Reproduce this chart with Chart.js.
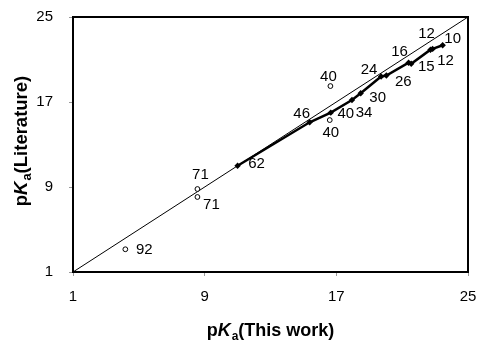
<!DOCTYPE html>
<html>
<head>
<meta charset="utf-8">
<script src="https://cdn.jsdelivr.net/npm/chart.js@4/dist/chart.umd.min.js"></script>
<style>
  html, body { margin: 0; padding: 0; background: #fff; }
  #wrap { width: 479px; height: 341px; }
</style>
</head>
<body>
<div id="wrap"><canvas id="pkaChart" width="479" height="341"></canvas></div>
<script>
// axis range / ticks
const axisTicks = [1, 9, 17, 25];
const diagonalX = [1, 25];

// filled diamonds, joined by a line (sorted by x)
const filledX = [11.0, 15.38, 16.66, 17.95, 18.48, 19.72, 20.04, 21.39, 21.55, 22.72, 22.85, 23.46];
const filledY = [11.0, 15.09, 16.0, 17.19, 17.82, 19.4, 19.49, 20.7, 20.6, 21.92, 22.0, 22.34];
const filledLabels = ['62', '46', '40', '34', '30', '24', '26', '16', '15', '12', '12', '10'];

// open circles
const openX = [16.64, 16.6, 8.56, 8.56, 4.18];
const openY = [18.5, 15.3, 8.81, 8.06, 3.14];
const openLabels = ['40', '40', '71', '71', '92'];

// label offsets in px (styling only)
const filledOffsets = [[19, -2], [-8, -8], [15, 1], [12, 13], [17, 5], [-12, -7], [17, 6], [-9, -11], [15, 3], [-4, -16], [13, 12], [10, -6]];
const openOffsets = [[-2, -9], [1, 13], [3, -14], [14, 8], [19, 1]];

const FONT = '"Liberation Sans", Arial, sans-serif';

function toPoints(xs, ys) {
    return xs.map((x, i) => ({ x: x, y: ys[i] }));
}

const pointLabels = {
    id: 'pointLabels',
    afterDatasetsDraw(chart) {
        const ctx = chart.ctx;
        ctx.save();
        ctx.font = '15px ' + FONT;
        ctx.fillStyle = '#000';
        ctx.textAlign = 'center';
        ctx.textBaseline = 'middle';
        chart.data.datasets.forEach((ds, di) => {
            if (!ds.pointText) return;
            const meta = chart.getDatasetMeta(di);
            meta.data.forEach((el, i) => {
                const off = ds.textOffsets[i];
                ctx.fillText(ds.pointText[i], el.x + off[0], el.y + off[1]);
            });
        });
        ctx.restore();
    }
};

// draws "pKa(...)" with italic K and subscript a, centred on 0,0
function drawPKa(ctx, rest, size) {
    const big = 'bold ' + size + 'px ' + FONT;
    const ital = 'italic bold ' + size + 'px ' + FONT;
    const sub = 'bold ' + Math.round(size * 0.68) + 'px ' + FONT;
    const parts = [[big, 'p', 0], [ital, 'K', 0], [sub, 'a', 4], [big, rest, 0]];
    let total = 0;
    parts.forEach(p => { ctx.font = p[0]; total += ctx.measureText(p[1]).width + (p[1] === 'K' ? 1 : 0); });
    let x = -total / 2;
    ctx.textBaseline = 'alphabetic';
    ctx.textAlign = 'left';
    parts.forEach(p => {
        ctx.font = p[0];
        ctx.fillText(p[1], x, p[2]);
        x += ctx.measureText(p[1]).width + (p[1] === 'K' ? 1 : 0);
    });
}

const frameAndTitles = {
    id: 'frameAndTitles',
    afterDraw(chart) {
        const ctx = chart.ctx;
        const a = chart.chartArea;
        ctx.save();
        ctx.strokeStyle = '#000';
        ctx.lineWidth = 2;
        ctx.strokeRect(a.left, a.top, a.right - a.left, a.bottom - a.top);
        ctx.fillStyle = '#000';

        ctx.save();
        ctx.translate((a.left + a.right) / 2, 336);
        drawPKa(ctx, '(This work)', 18);
        ctx.restore();

        ctx.save();
        ctx.translate(27, 141);
        ctx.rotate(-Math.PI / 2);
        drawPKa(ctx, '(Literature)', 18.5);
        ctx.restore();
        ctx.restore();
    }
};

const tickFont = { family: FONT, size: 15 };

new Chart(document.getElementById('pkaChart'), {
    type: 'scatter',
    data: {
        datasets: [
            {
                data: toPoints(filledX, filledY),
                showLine: true,
                borderColor: '#000',
                borderWidth: 2.5,
                pointStyle: 'rectRot',
                pointRadius: 3.2,
                pointBackgroundColor: '#000',
                pointBorderColor: '#000',
                pointBorderWidth: 0,
                pointText: filledLabels,
                textOffsets: filledOffsets,
                order: 1
            },
            {
                data: toPoints(openX, openY),
                pointStyle: 'circle',
                pointRadius: 2.4,
                pointBackgroundColor: '#fff',
                pointBorderColor: '#000',
                pointBorderWidth: 1,
                pointText: openLabels,
                textOffsets: openOffsets,
                order: 0
            },
            {
                data: toPoints(diagonalX, diagonalX),
                showLine: true,
                borderColor: '#000',
                borderWidth: 1,
                pointRadius: 0,
                order: 2
            }
        ]
    },
    options: {
        responsive: false,
        animation: false,
        events: [],
        layout: { padding: { top: 17, right: 11, left: 0, bottom: 0 } },
        plugins: { legend: { display: false }, tooltip: { enabled: false } },
        scales: {
            x: {
                type: 'linear',
                min: axisTicks[0],
                max: axisTicks[axisTicks.length - 1],
                afterBuildTicks: s => { s.ticks = axisTicks.map(v => ({ value: v })); },
                afterFit: s => { s.height = 69; s.paddingLeft = 0; s.paddingRight = 0; },
                border: { display: false },
                grid: { drawOnChartArea: false, drawTicks: true, tickLength: 4, color: '#999' },
                ticks: { font: tickFont, color: '#000', padding: 12, maxRotation: 0 }
            },
            y: {
                type: 'linear',
                min: axisTicks[0],
                max: axisTicks[axisTicks.length - 1],
                afterBuildTicks: s => { s.ticks = axisTicks.map(v => ({ value: v })); },
                afterFit: s => { s.width = 73; s.paddingTop = 0; s.paddingBottom = 0; },
                border: { display: false },
                grid: { drawOnChartArea: false, drawTicks: true, tickLength: 4, color: '#999' },
                ticks: { font: tickFont, color: '#000', padding: 16 }
            }
        }
    },
    plugins: [pointLabels, frameAndTitles]
});
</script>
</body>
</html>
